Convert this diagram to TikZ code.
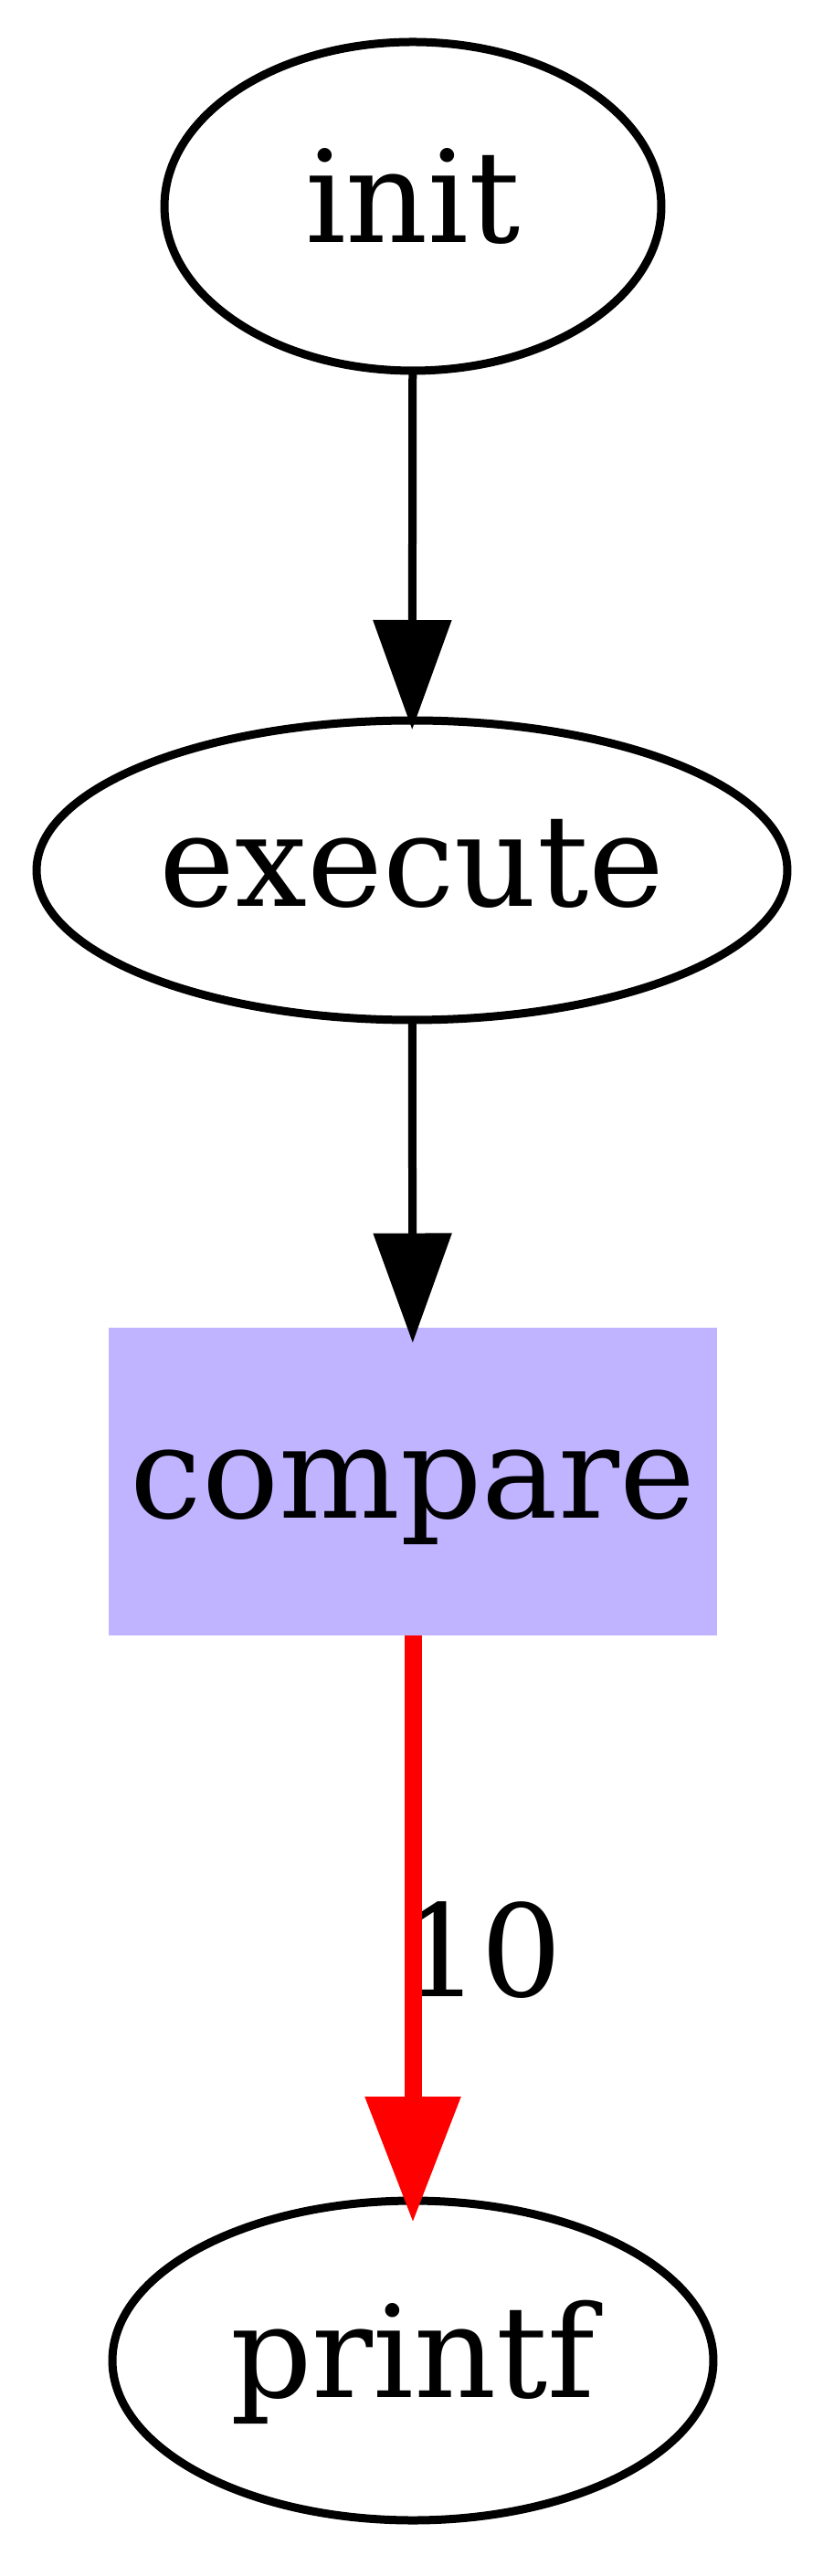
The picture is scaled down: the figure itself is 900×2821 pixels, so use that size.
\documentclass[tikz,border=0pt]{standalone}
\usepackage{fontspec}
\setmainfont{DejaVu Serif}
\usetikzlibrary{shapes.geometric,arrows.meta}
\definecolor{lav}{RGB}{192,179,255}
\tikzset{
  ell/.style={ellipse,draw=black,line width=0.9pt,inner sep=0pt,outer sep=0pt,
    font=\fontsize{14pt}{16pt}\selectfont,text height=10pt,text depth=2pt},
  boxnode/.style={rectangle,fill=lav,draw=none,inner sep=0pt,outer sep=0pt,
    minimum width=66.6pt,minimum height=33.7pt,
    font=\fontsize{14pt}{16pt}\selectfont,text height=10pt,text depth=2pt},
  blk/.style={draw=black,line width=0.9pt,-{Triangle[length=12pt,width=8.4pt]}},
  redarr/.style={draw=red,line width=1.9pt,-{Triangle[length=13.8pt,width=10pt]}},
  lbl/.style={inner sep=0pt,font=\fontsize{14pt}{16pt}\selectfont}
}
\begin{document}
\begin{tikzpicture}[x=0.1pt,y=-0.1pt]
\useasboundingbox (0,0) rectangle (900,2821);
\node[ell,minimum width=54.4pt,minimum height=36pt] (init) at (452,226) {init};
\node[ell,minimum width=82.2pt,minimum height=32.8pt] (execute) at (451,953) {execute};
\node[boxnode] (compare) at (452,1622) {compare};
\node[ell,minimum width=65.8pt,minimum height=35pt] (printf) at (452,2585) {printf};
\node[lbl,anchor=base] (l10) at (527,2186) {10};
\draw[blk,shorten >=-1pt] (init) -- (execute);
\draw[blk,shorten >=-1.7pt] (execute) -- (compare);
\draw[redarr,shorten >=-2.4pt] (compare) -- (printf);
\end{tikzpicture}
\end{document}
